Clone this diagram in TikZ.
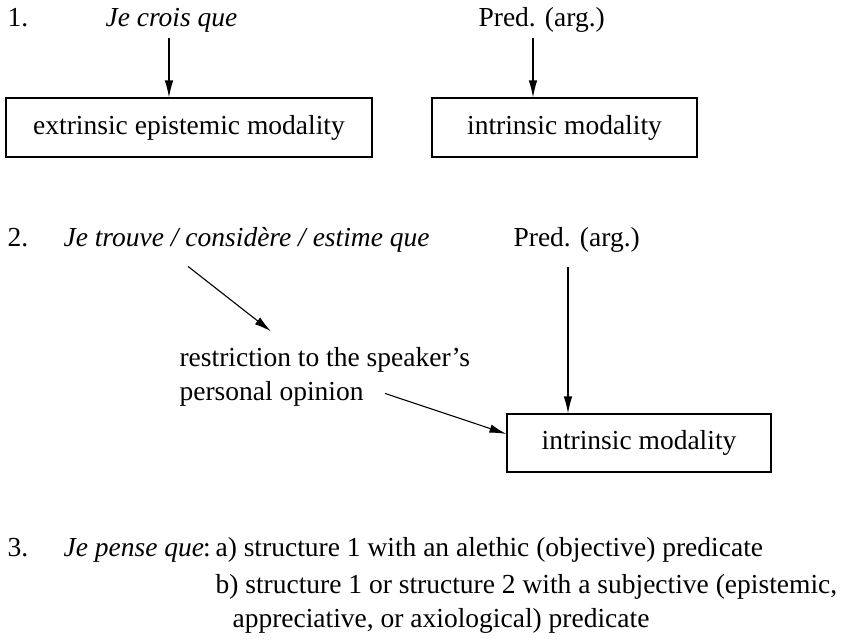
\documentclass[tikz,border=0pt]{standalone}
\usepackage{fontspec}
\setmainfont{Liberation Serif}
\usepackage{tikz}
\usetikzlibrary{arrows.meta}
\tikzset{>={Latex[length=17pt,width=8.5pt]}}

\begin{document}
\begin{tikzpicture}[->,x=1pt,y=-1pt,line width=1.1pt]
\tikzstyle{txt} = [font=\fontsize{27.5}{34}\selectfont,inner sep=0pt,anchor=base west,align=left]
\tikzstyle{obj} = [font=\fontsize{27.5}{34}\selectfont,rectangle,draw,align=center,minimum height=59pt,inner sep=0pt]
\useasboundingbox (0,0) rectangle (854,641);
% 1.
\node[txt] (one) at (7,26) {1.};
\node[txt] (jc) at (105,26) {\itshape Je crois que};
\node[txt] (pa1) at (478,26) {Pred. (arg.)};
\node[obj,minimum width=366pt] (ext) at (189,127.5) {extrinsic epistemic modality};
\node[obj,minimum width=265pt] (intr1) at (564.5,127.5) {intrinsic modality};
\draw ([xshift=64pt,yshift=-6pt]jc.south west) -- ([xshift=64pt]jc.south west |- ext.north);
\draw ([xshift=55pt,yshift=-6pt]pa1.south west) -- ([xshift=55pt]pa1.south west |- intr1.north);
% 2.
\node[txt] (two) at (7,246) {2.};
\node[txt] (jt) at (63,246) {\itshape Je trouve / considère / estime que};
\node[txt] (pa2) at (513,246) {Pred. (arg.)};
\node[txt] (restr) at (179,400) {restriction to the speaker’s\\personal opinion};
\node[obj,minimum width=264pt,minimum height=58pt] (intr2) at (639,443) {intrinsic modality};
\draw ([xshift=125pt,yshift=-14pt]jt.south west) -- ([xshift=92pt,yshift=15pt]restr.north west);
\draw ([xshift=206pt,yshift=13pt]restr.south west) -- ([yshift=9pt]intr2.west);
\draw ([xshift=55pt,yshift=-15pt]pa2.south west) -- ([xshift=55pt]pa2.south west |- intr2.north);
% 3.
\node[txt] (three) at (7,556) {3.};
\node[txt] (jp) at (63,556) {\textit{Je pense que}\kern-1pt:};
\node[txt] (ca) at (215,556) {a) structure 1 with an alethic (objective) predicate};
\node[txt] (cb) at (215,627) {b) structure 1 or structure 2 with a subjective (epistemic,\\\hspace*{17pt}appreciative, or axiological) predicate};
\end{tikzpicture}
\end{document}
